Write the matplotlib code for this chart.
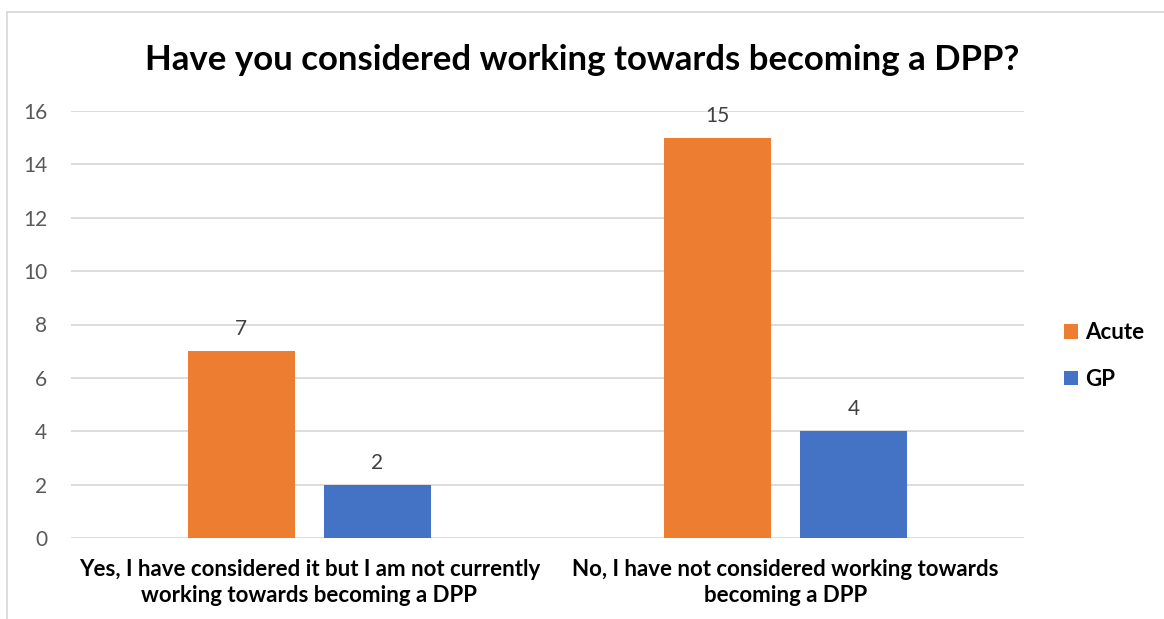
import matplotlib.pyplot as plt
import numpy as np

categories = ['Yes, I have considered it but I am not currently\nworking towards becoming a DPP',
              'No, I have not considered working towards\nbecoming a DPP']
acute = [7, 15]
gp = [2, 4]
series_names = ['Acute', 'GP']
yticks = [0, 2, 4, 6, 8, 10, 12, 14, 16]

plt.rcParams['font.family'] = ['Lato', 'DejaVu Sans']

fig = plt.figure(figsize=(11.64, 6.19), dpi=100)
ax = fig.add_axes([71/1164, 1-538/619, (1024-71)/1164, (538-111)/619])

x = np.arange(len(categories))
w = 0.2245
b1 = ax.bar(x - 0.143, acute, w, color='#ED7D31', label=series_names[0], zorder=3)
b2 = ax.bar(x + 0.143, gp, w, color='#4472C4', label=series_names[1], zorder=3)

for bars in (b1, b2):
    for r in bars:
        ax.text(r.get_x() + r.get_width()/2, r.get_height() + 0.45, str(int(r.get_height())),
                ha='center', va='bottom', fontsize=15, color='#404040')

ax.set_xlim(-0.5, 1.5)
ax.set_ylim(0, 16)
ax.set_yticks(yticks)
ax.set_yticklabels([str(t) for t in yticks], fontsize=15, color='#595959')
ax.set_xticks(x)
ax.set_xticklabels(categories, fontsize=16, fontweight='bold', color='black', linespacing=1.3)
ax.tick_params(axis='both', length=0)
ax.tick_params(axis='y', pad=17)
ax.tick_params(axis='x', pad=15)
ax.grid(axis='y', color='#D9D9D9', linewidth=1.3, zorder=0)
for s in ax.spines.values():
    s.set_visible(False)

fig.text(0.5, 1-60/619, 'Have you considered working towards becoming a DPP?',
         ha='center', va='center', fontsize=25, fontweight='bold', color='black')

leg = ax.legend(loc='center left', bbox_to_anchor=(1064/1164, 1-356/619),
                bbox_transform=fig.transFigure, frameon=False,
                borderaxespad=0, borderpad=0,
                handlelength=0.63, handleheight=0.63, handletextpad=0.3,
                labelspacing=1.15, prop={'weight': 'bold', 'size': 16})

# outer chart frame (top and left edges)
fig.add_artist(plt.Line2D([7/1164, 7/1164], [0, 1-12/619], color='#D9D9D9', linewidth=1.3))
fig.add_artist(plt.Line2D([7/1164, 1], [1-12/619, 1-12/619], color='#D9D9D9', linewidth=1.3))

fig.savefig('out.png', dpi=100)
